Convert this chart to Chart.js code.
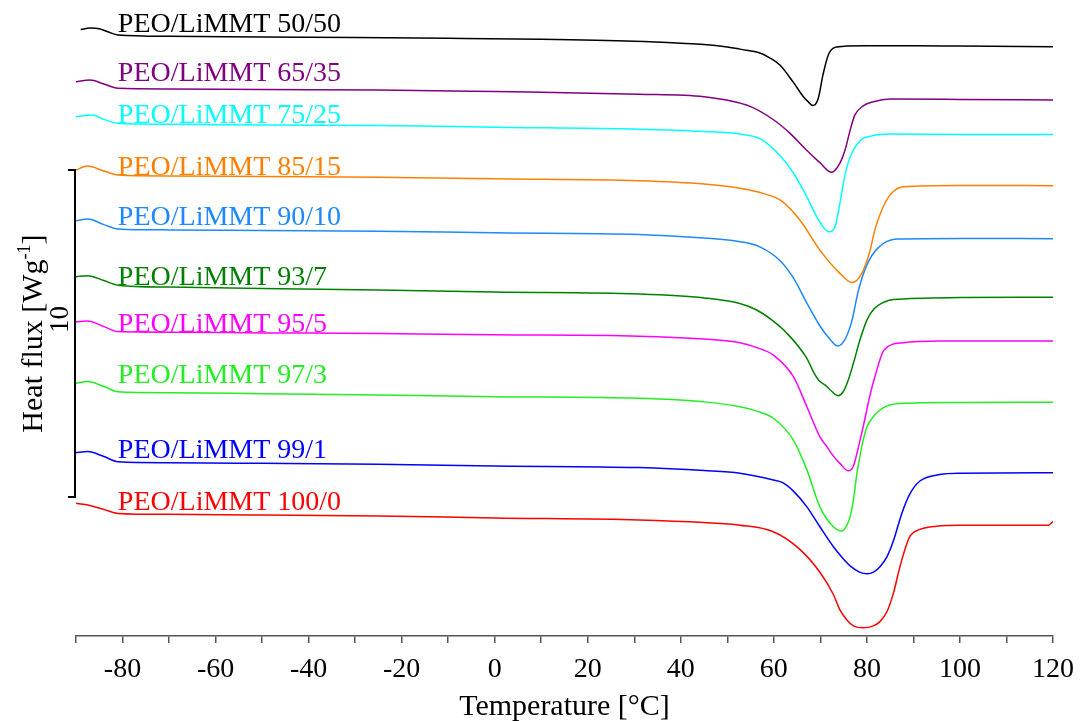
<!DOCTYPE html>
<html>
<head>
<meta charset="utf-8">
<script src="https://cdn.jsdelivr.net/npm/chart.js@4.4.1/dist/chart.umd.min.js"></script>
<style>
html,body{margin:0;padding:0;background:#fff;}
#wrap{width:1084px;height:721px;position:relative;}
canvas{display:block;}
</style>
</head>
<body>
<div id="wrap"><canvas id="c" width="1084" height="721"></canvas></div>
<script>
// ---------- data (heat flux in W/g, curves shifted vertically) ----------
const seriesNames = ['PEO/LiMMT 50/50','PEO/LiMMT 65/35','PEO/LiMMT 75/25','PEO/LiMMT 85/15','PEO/LiMMT 90/10',
                     'PEO/LiMMT 93/7','PEO/LiMMT 95/5','PEO/LiMMT 97/3','PEO/LiMMT 99/1','PEO/LiMMT 100/0'];
const seriesColors = ['#000000','#800080','#00FFFF','#FF8000','#1E88FF','#008000','#FF00FF','#22EE22','#0000FF','#FF0000'];

const t5050 = [-89,-87,-85,-83,-81,-70,-50,-30,-10,10,30,40,45,50,53,57,59,61.3,64.2,66.3,67.3,68.4,69.5,70.6,71.7,73.1,75.6,80,90,100,120];
const hf5050 = [18.55,18.59,18.57,18.47,18.38,18.34,18.32,18.30,18.28,18.25,18.19,18.13,18.09,18.01,17.94,17.83,17.69,17.46,16.93,16.50,16.35,16.22,16.42,17.19,17.77,18.00,18.04,18.05,18.05,18.04,18.02];

const t6535 = [-90,-87,-84,-81,-70,-50,-25,0,31,45,55,60,63.5,67,70,72.4,74.2,75.3,76.4,77.4,79.2,81.4,85,100,120];
const hf6535 = [16.95,17.00,16.88,16.75,16.73,16.71,16.70,16.65,16.57,16.49,16.19,15.78,15.37,14.86,14.46,14.18,14.46,14.86,15.47,15.93,16.21,16.34,16.42,16.41,16.39];

const t7525 = [-90,-86.5,-84,-81,-70,-50,-25,0,31,45,52.7,57,61.4,64.2,67.1,69.5,71.8,73.2,74.2,75.3,76.4,78.5,81,85,100,120];
const hf7525 = [15.88,15.93,15.80,15.68,15.65,15.63,15.61,15.56,15.50,15.43,15.35,15.21,14.68,14.16,13.43,12.75,12.36,12.54,13.24,14.10,14.65,15.14,15.29,15.35,15.34,15.34];

const t8515 = [-90,-87.5,-84,-81,-70,-50,-25,0,31,45,52.7,58,61.4,65.6,69.9,74.2,76.8,78.9,80.7,81.7,83.2,85,87.8,100,120];
const hf8515 = [14.25,14.37,14.22,14.10,14.07,14.05,14.03,13.98,13.92,13.82,13.69,13.52,13.33,12.72,11.80,11.09,10.81,11.09,11.80,12.42,13.03,13.49,13.74,13.78,13.77];

const t9010 = [-90,-87.5,-84,-81,-70,-50,-25,0,31,45,52.7,57,61.4,64.2,67.1,69.9,72.2,73.7,75.2,76.7,78.2,80,82.4,86.4,100,120];
const hf9010 = [12.70,12.75,12.58,12.45,12.42,12.40,12.38,12.33,12.28,12.17,12.06,11.90,11.47,10.95,10.18,9.48,9.05,8.87,9.05,9.60,10.58,11.35,11.87,12.14,12.16,12.15];

const t937 = [-90,-87.5,-84,-81,-70,-50,-25,0,31,45,52.7,56.3,59.6,62.8,67.1,68.5,69.9,71,72,73.8,74.9,76,77.1,78.5,80,81.5,83.5,85.7,100,120];
const hf937 = [10.99,11.02,10.87,10.73,10.67,10.63,10.58,10.52,10.46,10.34,10.17,9.97,9.66,9.26,8.49,8.08,7.78,7.68,7.54,7.35,7.47,7.83,8.34,9.05,9.66,10.00,10.20,10.29,10.35,10.36];

const t955 = [-90,-87.5,-84,-81,-70,-50,-25,0,31,45,52.7,56.5,59.9,64.2,67.1,69.9,71.4,72.8,74.2,76,77.1,77.8,79.2,80.6,81.7,83.7,87.8,95.7,120];
const hf955 = [9.61,9.63,9.46,9.31,9.29,9.27,9.25,9.21,9.17,9.08,8.97,8.81,8.59,7.93,7.01,6.09,5.79,5.50,5.28,5.05,5.20,5.55,6.40,7.32,7.92,8.75,8.97,9.02,9.02];

const t973 = [-90,-87.5,-84,-81,-70,-50,-25,0,31,45,52.7,56.5,59.9,64.2,67.1,69.9,72.8,74.6,75.7,76.4,77.1,77.8,78.5,79.2,80,81.4,84.2,88.6,100,120];
const hf973 = [7.73,7.78,7.63,7.47,7.44,7.41,7.37,7.32,7.27,7.16,7.01,6.87,6.66,5.99,5.08,3.95,3.34,3.21,3.39,3.65,4.16,4.92,5.50,5.99,6.39,6.71,7.03,7.12,7.14,7.15];

const t991 = [-90,-87.5,-84,-81,-70,-50,-25,0,31,45,52.7,59.9,62,64.2,67.1,69.9,72.8,75,76.6,78.3,80,81.5,82.8,84.3,85.7,87.5,89.3,91.4,95.7,100,120];
const hf991 = [5.61,5.64,5.49,5.33,5.30,5.28,5.25,5.20,5.15,5.06,4.98,4.77,4.68,4.43,3.95,3.34,2.73,2.35,2.12,1.96,1.90,1.96,2.12,2.42,2.91,3.75,4.36,4.74,4.94,4.98,4.99];

const t1000 = [-90,-88,-84,-81,-70,-50,-25,0,31,45,52.7,59.9,65.6,69.9,72.8,74.2,75.7,77.1,79.2,81.4,82.8,84.3,85.7,87.1,88.6,89.3,91.4,95,100,119,120];
const hf1000 = [4.06,4.02,3.87,3.75,3.72,3.70,3.67,3.61,3.55,3.47,3.39,3.19,2.65,1.95,1.27,0.80,0.49,0.31,0.25,0.31,0.44,0.74,1.31,2.12,2.83,3.06,3.26,3.36,3.39,3.39,3.50];

const seriesTemps = [t5050,t6535,t7525,t8515,t9010,t937,t955,t973,t991,t1000];
const seriesFlux  = [hf5050,hf6535,hf7525,hf8515,hf9010,hf937,hf955,hf973,hf991,hf1000];

const xTickStep = 10;
const xLabelStep = 20;
const scaleBarLow = 4.25;   // W/g
const scaleBarSpan = 10;    // W/g
const labelAtT = -81;

// ---------- layout / style ----------
const labelLift = [3.3,7.3,0,0,4,0,0,8.4,3.4,3.3];
const SERIF = '"Liberation Serif","Times New Roman",serif';

const datasets = seriesNames.map((name,i)=>({
  label: name,
  data: seriesTemps[i].map((t,j)=>({x:t, y:seriesFlux[i][j]})),
  borderColor: seriesColors[i],
  backgroundColor: seriesColors[i],
  borderWidth: 1.5,
  pointRadius: 0,
  fill: false,
  cubicInterpolationMode: 'monotone'
}));

const annotate = {
  id: 'annotate',
  afterDatasetsDraw(chart){
    const {ctx, scales:{x, y}} = chart;
    ctx.save();
    ctx.textAlign = 'left';
    ctx.textBaseline = 'alphabetic';
    ctx.font = '28px ' + SERIF;
    chart.data.datasets.forEach((ds,i)=>{
      const pt = ds.data.find(p=>p.x===labelAtT);
      const px = x.getPixelForValue(labelAtT);
      const py = y.getPixelForValue(pt.y) - labelLift[i];
      ctx.fillStyle = ds.borderColor;
      ctx.fillText(ds.label, px, py);
    });
    // scale bar
    const bx = x.left - 1;
    const yt = y.getPixelForValue(scaleBarLow + scaleBarSpan);
    const yb = y.getPixelForValue(scaleBarLow);
    ctx.strokeStyle = '#000';
    ctx.lineWidth = 2;
    ctx.beginPath();
    ctx.moveTo(bx-7, yt); ctx.lineTo(bx, yt); ctx.lineTo(bx, yb); ctx.lineTo(bx-7, yb);
    ctx.stroke();
    ctx.fillStyle = '#000';
    ctx.save();
    ctx.translate(bx-7, (yt+yb)/2 - 14);
    ctx.rotate(-Math.PI/2);
    ctx.textAlign = 'center';
    ctx.font = '27px ' + SERIF;
    ctx.fillText(String(scaleBarSpan), 0, 0);
    ctx.restore();
    // y title with superscript
    ctx.save();
    ctx.translate(42, (yt+yb)/2);
    ctx.rotate(-Math.PI/2);
    ctx.textAlign = 'left';
    const mainFont = '30px ' + SERIF, supFont = '18px ' + SERIF;
    const p1 = 'Heat flux [Wg', p2 = '-1', p3 = ']';
    ctx.font = mainFont; const w1 = ctx.measureText(p1).width, w3 = ctx.measureText(p3).width;
    ctx.font = supFont; const w2 = ctx.measureText(p2).width;
    let sx = -(w1+w2+w3)/2;
    ctx.font = mainFont; ctx.fillText(p1, sx, 0); sx += w1;
    ctx.font = supFont; ctx.fillText(p2, sx, -12); sx += w2;
    ctx.font = mainFont; ctx.fillText(p3, sx, 0);
    ctx.restore();
    ctx.restore();
  }
};

new Chart(document.getElementById('c'), {
  type: 'line',
  data: { datasets },
  options: {
    responsive: false,
    animation: false,
    devicePixelRatio: 1,
    layout: { padding: { left: 76, right: 31, top: 0, bottom: 0 } },
    plugins: { legend: { display: false }, tooltip: { enabled: false } },
    scales: {
      x: {
        type: 'linear', min: -90, max: 120,
        ticks: {
          stepSize: xTickStep, autoSkip: false, maxRotation: 0, color: '#000', padding: 10,
          font: { family: SERIF, size: 28 },
          callback: v => (v % xLabelStep === 0 ? String(v) : '')
        },
        grid: { drawOnChartArea: false, drawTicks: true, tickLength: 7, color: '#555', lineWidth: 1.5 },
        border: { display: true, color: '#555', width: 1.5 },
        title: { display: true, text: 'Temperature [°C]', color: '#000', font: { family: SERIF, size: 30, lineHeight: 0.95 }, padding: 0 },
        afterFit: s => { s.height = 85; }
      },
      y: { type: 'linear', display: false, min: 0, max: 19.45 }
    }
  },
  plugins: [annotate]
});
</script>
</body>
</html>
